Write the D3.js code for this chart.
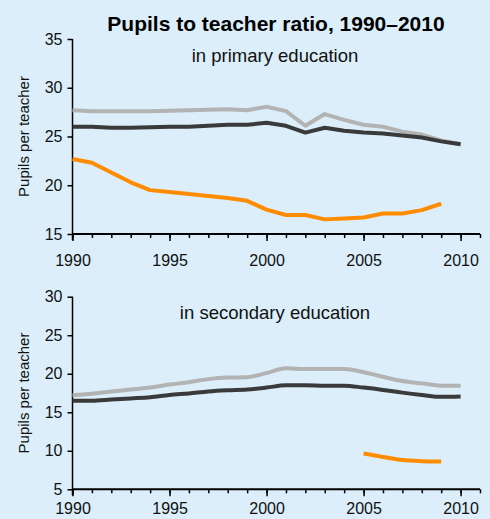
<!DOCTYPE html>
<html lang="en">
<meta charset="utf-8">
<script src="https://d3js.org/d3.v7.min.js"></script>
<style>
  body { margin: 0; background: #dbeef9; }
  svg { display: block; font-family: "Liberation Sans", Arial, sans-serif; }
</style>
<body>
<svg width="490" height="519"></svg>
<script>
var years = d3.range(1990, 2011);

// primary education
var primaryLight = [27.7, 27.6, 27.6, 27.6, 27.6, 27.65, 27.7, 27.75, 27.8, 27.7, 28.05,
                    27.6, 26.1, 27.3, 26.7, 26.2, 26.0, 25.5, 25.2, 24.6, 24.2];
var primaryDark  = [26.0, 26.0, 25.9, 25.9, 25.95, 26.0, 26.0, 26.1, 26.2, 26.2, 26.4,
                    26.1, 25.4, 25.9, 25.6, 25.4, 25.3, 25.1, 24.9, 24.5, 24.2];
var primaryOrange = [22.7, 22.3, 21.3, 20.3, 19.5, 19.3, 19.1, 18.9, 18.7, 18.4, 17.5,
                     16.95, 16.95, 16.5, 16.6, 16.7, 17.1, 17.1, 17.45, 18.1, null];

// secondary education
var secondaryLight = [17.2, 17.4, 17.7, 17.95, 18.2, 18.6, 18.9, 19.3, 19.5, 19.55, 20.1,
                      20.7, 20.6, 20.6, 20.6, 20.2, 19.6, 19.05, 18.75, 18.45, 18.45];
var secondaryDark  = [16.5, 16.5, 16.65, 16.8, 16.95, 17.25, 17.45, 17.7, 17.85, 17.95, 18.2,
                      18.5, 18.5, 18.45, 18.45, 18.2, 17.9, 17.55, 17.25, 17.0, 17.05];
var secondaryOrange = [null, null, null, null, null, null, null, null, null, null, null,
                       null, null, null, null, 9.65, 9.2, 8.8, 8.65, 8.6, null];

var primaryTicks = [15, 20, 25, 30, 35];
var secondaryTicks = [5, 10, 15, 20, 25, 30];
var majorYears = [1990, 1995, 2000, 2005, 2010];

var colors = { light: "#b3b3b3", dark: "#3a3a3a", orange: "#ff8c00" };

var svg = d3.select("svg");
var font = "Liberation Sans, Arial, sans-serif";

var x = d3.scaleLinear().domain([1990, 2011]).range([72.5, 480]);

svg.append("text")
  .attr("x", 276).attr("y", 31)
  .attr("text-anchor", "middle")
  .attr("font-size", "21px").attr("font-weight", "bold")
  .text("Pupils to teacher ratio, 1990\u20132010");

function panel(top, bottom, domain, ticks, subtitle, subY, labelPad, series, curve) {
  var y = d3.scaleLinear().domain(domain).range([bottom, top]);
  var g = svg.append("g");

  // y axis
  var yAxis = d3.axisLeft(y).tickValues(ticks).tickSize(5).tickPadding(5);
  var ya = g.append("g").attr("transform", "translate(" + x(1990) + ",0)").call(yAxis);
  ya.attr("font-size", null).attr("font-family", null);
  ya.select(".domain").attr("stroke", "#000").attr("stroke-width", 1.5).attr("d", "M0," + top + "V" + (bottom + 6));
  ya.selectAll("line").attr("stroke", "#000").attr("stroke-width", 1.5);
  ya.selectAll("text").attr("font-size", "16px").attr("fill", "#111").attr("font-family", font);

  // x axis, minor ticks
  var xMinor = d3.axisBottom(x).tickValues(d3.range(1990, 2012)).tickSize(4).tickFormat("");
  var xm = g.append("g").attr("transform", "translate(0," + bottom + ")").call(xMinor);
  xm.select(".domain").attr("stroke", "#000").attr("stroke-width", 2).attr("d", "M" + x(1990) + ",0H" + x(2011));
  xm.selectAll("line").attr("stroke", "#000").attr("stroke-width", 1.5);

  var xMajor = d3.axisBottom(x).tickValues(majorYears).tickSize(7).tickPadding(labelPad).tickFormat(d3.format("d"));
  var xa = g.append("g").attr("transform", "translate(0," + bottom + ")").call(xMajor);
  xa.attr("font-size", null).attr("font-family", null);
  xa.select(".domain").remove();
  xa.selectAll("line").attr("stroke", "#000").attr("stroke-width", 1.5);
  xa.selectAll("text").attr("font-size", "16px").attr("fill", "#111").attr("font-family", font);

  // y label
  g.append("text")
    .attr("transform", "translate(29," + ((top + bottom) / 2) + ") rotate(-90)")
    .attr("text-anchor", "middle")
    .attr("font-size", "15px").attr("fill", "#111")
    .text("Pupils per teacher");

  g.append("text")
    .attr("x", 275).attr("y", subY)
    .attr("text-anchor", "middle")
    .attr("font-size", "18.5px").attr("fill", "#111")
    .text(subtitle);

  var line = d3.line()
    .defined(function(d) { return d[1] != null; })
    .x(function(d) { return x(d[0]); })
    .y(function(d) { return y(d[1]); })
    .curve(curve);

  series.forEach(function(s) {
    g.append("path")
      .datum(years.map(function(yr, i) { return [yr, s.values[i]]; }))
      .attr("fill", "none")
      .attr("stroke", s.color)
      .attr("stroke-width", 4)
      .attr("stroke-linejoin", "round")
      .attr("d", line);
  });
}

panel(39, 234, [15, 35], primaryTicks, "in primary education", 61.5, 13.5, [
  { values: primaryLight, color: colors.light },
  { values: primaryDark, color: colors.dark },
  { values: primaryOrange, color: colors.orange }
], d3.curveLinear);

panel(296.7, 489.3, [5, 30], secondaryTicks, "in secondary education", 319, 6.5, [
  { values: secondaryLight, color: colors.light },
  { values: secondaryDark, color: colors.dark },
  { values: secondaryOrange, color: colors.orange }
], d3.curveMonotoneX);
</script>
</body>
</html>
